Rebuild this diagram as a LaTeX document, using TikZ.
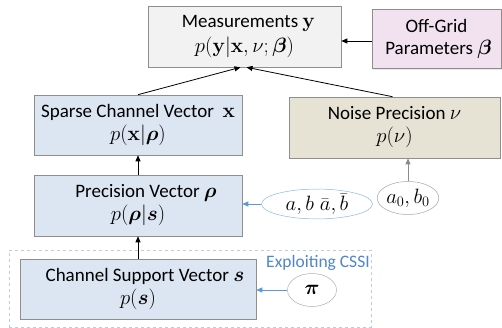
\documentclass[tikz,border=0pt]{standalone}
\usepackage{amsmath}
\usepackage[no-math]{fontspec}
\setmainfont{Carlito}
\usetikzlibrary{arrows.meta,shapes.geometric,calc,shadows}
\definecolor{measfill}{HTML}{F2F2F2}
\definecolor{pinkfill}{HTML}{F2E2F0}
\definecolor{bluefill}{HTML}{DCE6F2}
\definecolor{olivefill}{HTML}{E6E2D4}
\definecolor{boxline}{HTML}{8E8E8E}
\definecolor{bluearrow}{HTML}{5B9BD5}
\definecolor{bluetext}{HTML}{4F86C6}
\definecolor{dashline}{HTML}{BFCCDD}
\newcommand{\lgmath}[1]{{\fontsize{22}{26}\selectfont$#1$}}
\newcommand{\inmath}[1]{{\fontsize{21}{26}\selectfont$#1$}}
\begin{document}
\begin{tikzpicture}[x=1pt,y=-1pt,
  box/.style 2 args={draw=boxline, line width=0.6pt, minimum width=#1pt, minimum height=#2pt,
    inner sep=0pt, align=center, font=\fontsize{19}{27}\selectfont,
    drop shadow={opacity=0.18, shadow xshift=1.2pt, shadow yshift=-1.2pt}},
  oval/.style 2 args={ellipse, draw=#1, fill=white, line width=0.5pt, minimum width=#2pt, inner sep=0pt},
  blk/.style={-{Triangle[length=6pt,width=5pt]}, line width=0.8pt, black},
  blu/.style={-{Triangle[length=6pt,width=5pt]}, line width=0.8pt, bluearrow},
  gry/.style={-{Triangle[length=6pt,width=5pt]}, line width=0.8pt, black!45},
  mth/.style={font=\fontsize{22}{26}\selectfont}]
\useasboundingbox (0,0) rectangle (502,328);
% dashed CSSI frame
\node[draw=dashline, dashed, line width=0.6pt, minimum width=362pt, minimum height=77pt, inner sep=0pt] (frame) at (190,288.5) {};
\node[text=bluetext, font=\fontsize{17.5}{20}\selectfont, inner sep=0pt] (cssi) at (318,263) {Exploiting CSSI};
% boxes
\node[box={193}{61}, fill=measfill] (meas) at (244.5,36.5)
  {\hspace*{8pt}Measurements \inmath{\mathbf{y}}\\[-2pt]\lgmath{p(\mathbf{y}|\mathbf{x},\nu;\boldsymbol{\beta})}};
\node[box={129}{59}, fill=pinkfill] (og) at (436.5,39)
  {Off-Grid\\[-5pt]\hspace*{4pt}Parameters \inmath{\boldsymbol{\beta}}};
\node[box={208}{60}, fill=bluefill] (sparse) at (138,125)
  {Sparse Channel Vector \ \inmath{\mathbf{x}}\\[-4pt]\lgmath{p(\mathbf{x}|\boldsymbol{\rho})}};
\node[box={211}{61}, fill=olivefill] (noise) at (394.5,127.5)
  {Noise Precision \inmath{\nu}\\[-4pt]\lgmath{p(\nu)}};
\node[box={208}{61}, fill=bluefill] (prec) at (138,205.5)
  {\hspace*{16pt}Precision Vector \inmath{\boldsymbol{\rho}}\\[-4pt]\lgmath{p(\boldsymbol{\rho}|\boldsymbol{s})}};
\node[box={236}{60}, fill=bluefill] (chan) at (138,289)
  {\hspace*{14pt}Channel Support Vector \inmath{\boldsymbol{s}}\\[-4pt]\lgmath{p(\boldsymbol{s})}};
% ellipses
\node[oval={bluearrow!70}{111}, minimum height=29pt, mth] (ab) at (317,204)
  {$a,b\;\bar{a},\bar{b}$};
\node[oval={black!35}{53}, minimum height=33pt, mth] (ab0) at (408,198)
  {$a_0,b_0$};
\node[oval={dashline!60!black!60}{49}, minimum height=33pt, mth] (pi) at (312,290)
  {$\boldsymbol{\pi}$};
% arrows
\draw[blk] (og.west |- 0,41) -- (meas.east |- 0,41);
\draw[blk] (sparse.north) -- ($(meas.south)+(-4,0)$);
\draw[blk] ($(noise.north)+(-2,0)$) -- ($(meas.south)+(2,0)$);
\draw[blk] (prec.north) -- (sparse.south);
\draw[blk] (chan.north) -- (prec.south);
\draw[gry] (ab0.north) -- (ab0.north |- noise.south);
\draw[blu] (ab.west) -- (ab.west -| prec.east);
\draw[blu] (pi.west) -- (pi.west -| chan.east);
\end{tikzpicture}
\end{document}
